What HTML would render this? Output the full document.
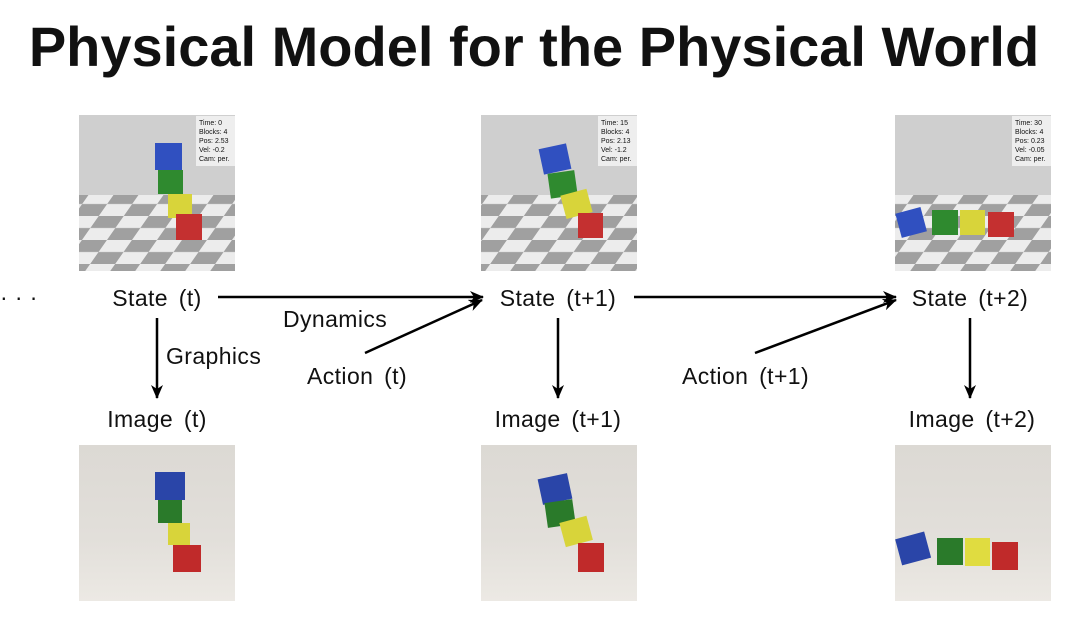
<!DOCTYPE html>
<html><head><meta charset="utf-8"><style>
html,body{margin:0;padding:0;background:#fff;}
svg{display:block;}
text{font-family:"Liberation Sans",sans-serif;fill:#111;}
</style></head><body>
<svg width="1080" height="627" viewBox="0 0 1080 627" xmlns="http://www.w3.org/2000/svg">
<defs>
<marker id="ah" markerWidth="14" markerHeight="12" refX="13" refY="6" orient="auto" markerUnits="userSpaceOnUse">
<path d="M0,0 L14,6 L0,12 L4,6 Z" fill="#000"/></marker>
<pattern id="chk" width="50" height="24" patternUnits="userSpaceOnUse" patternTransform="skewX(-35)">
<rect width="50" height="24" fill="#ececec"/><rect width="25" height="12" fill="#a0a0a0"/><rect x="25" y="12" width="25" height="12" fill="#a0a0a0"/></pattern>
<linearGradient id="cloth" x1="0" y1="0" x2="0" y2="1"><stop offset="0" stop-color="#dcd9d4"/><stop offset="0.6" stop-color="#e2dfda"/><stop offset="1" stop-color="#ece9e4"/></linearGradient>
</defs>

<text x="534" y="66" text-anchor="middle" font-size="56" font-weight="bold">Physical Model for the Physical World</text>

<!-- top images -->
<g>
<rect x="79" y="115" width="156" height="80" fill="#cfcfcf"/><rect x="79" y="195" width="156" height="76" fill="url(#chk)"/>
<rect x="196" y="116" width="39" height="50" fill="#eee"/>
<text font-size="7" x="199" y="125">Time: 0</text><text font-size="7" x="199" y="134">Blocks: 4</text><text font-size="7" x="199" y="143">Pos: 2.53</text><text font-size="7" x="199" y="152">Vel: -0.2</text><text font-size="7" x="199" y="161">Cam: per.</text>
<rect x="155" y="143" width="27" height="27" fill="#3050c0"/><rect x="158" y="170" width="25" height="24" fill="#2f8a2f"/><rect x="168" y="194" width="24" height="24" fill="#d8d43a"/><rect x="176" y="214" width="26" height="26" fill="#c43030"/>
</g>
<g>
<rect x="481" y="115" width="156" height="80" fill="#cfcfcf"/><rect x="481" y="195" width="156" height="76" fill="url(#chk)"/>
<rect x="598" y="116" width="39" height="50" fill="#eee"/>
<text font-size="7" x="601" y="125">Time: 15</text><text font-size="7" x="601" y="134">Blocks: 4</text><text font-size="7" x="601" y="143">Pos: 2.13</text><text font-size="7" x="601" y="152">Vel: -1.2</text><text font-size="7" x="601" y="161">Cam: per.</text>
<rect x="541" y="146" width="28" height="26" fill="#3050c0" transform="rotate(-12 555 159)"/><rect x="549" y="172" width="27" height="25" fill="#2f8a2f" transform="rotate(-8 562 184)"/><rect x="563" y="192" width="27" height="24" fill="#d8d43a" transform="rotate(-15 576 204)"/><rect x="578" y="213" width="25" height="25" fill="#c43030"/>
</g>
<g>
<rect x="895" y="115" width="156" height="80" fill="#cfcfcf"/><rect x="895" y="195" width="156" height="76" fill="url(#chk)"/>
<rect x="1012" y="116" width="39" height="50" fill="#eee"/>
<text font-size="7" x="1015" y="125">Time: 30</text><text font-size="7" x="1015" y="134">Blocks: 4</text><text font-size="7" x="1015" y="143">Pos: 0.23</text><text font-size="7" x="1015" y="152">Vel: -0.05</text><text font-size="7" x="1015" y="161">Cam: per.</text>
<rect x="898" y="210" width="26" height="25" fill="#3050c0" transform="rotate(-15 911 222)"/><rect x="932" y="210" width="26" height="25" fill="#2f8a2f"/><rect x="960" y="210" width="25" height="25" fill="#d8d43a"/><rect x="988" y="212" width="26" height="25" fill="#c43030"/>
</g>

<!-- bottom images -->
<g>
<rect x="79" y="445" width="156" height="156" fill="url(#cloth)"/>
<rect x="155" y="472" width="30" height="28" fill="#2a45a8"/><rect x="158" y="500" width="24" height="23" fill="#2a7a2a"/><rect x="168" y="523" width="22" height="22" fill="#d8d43a"/><rect x="173" y="545" width="28" height="27" fill="#c02a2a"/>
</g>
<g>
<rect x="481" y="445" width="156" height="156" fill="url(#cloth)"/>
<rect x="540" y="476" width="30" height="26" fill="#2a45a8" transform="rotate(-12 555 489)"/><rect x="546" y="501" width="28" height="25" fill="#2a7a2a" transform="rotate(-8 560 513)"/><rect x="562" y="519" width="28" height="25" fill="#d8d43a" transform="rotate(-15 576 531)"/><rect x="578" y="543" width="26" height="29" fill="#c02a2a"/>
</g>
<g>
<rect x="895" y="445" width="156" height="156" fill="url(#cloth)"/>
<rect x="898" y="535" width="30" height="27" fill="#2a45a8" transform="rotate(-15 913 548)"/><rect x="937" y="538" width="26" height="27" fill="#2a7a2a"/><rect x="965" y="538" width="25" height="28" fill="#e0dc40"/><rect x="992" y="542" width="26" height="28" fill="#c02a2a"/>
</g>

<!-- labels -->
<g font-size="23" letter-spacing="0.4">
<text x="0" y="305">· · ·</text>
<text x="157" y="306" text-anchor="middle" word-spacing="4">State (t)</text>
<text x="558" y="306" text-anchor="middle" word-spacing="4">State (t+1)</text>
<text x="970" y="306" text-anchor="middle" word-spacing="4">State (t+2)</text>
<text x="157" y="427" text-anchor="middle" word-spacing="4">Image (t)</text>
<text x="558" y="427" text-anchor="middle" word-spacing="4">Image (t+1)</text>
<text x="972" y="427" text-anchor="middle" word-spacing="4">Image (t+2)</text>
<text x="166" y="364">Graphics</text>
<text x="283" y="327">Dynamics</text>
<text x="307" y="384" word-spacing="4">Action (t)</text>
<text x="682" y="384" word-spacing="4">Action (t+1)</text>
</g>

<!-- arrows -->
<g stroke="#000" stroke-width="2.5" fill="none" marker-end="url(#ah)">
<line x1="218" y1="297" x2="483" y2="297"/>
<line x1="634" y1="297" x2="896" y2="297"/>
<line x1="365" y1="353" x2="482" y2="300"/>
<line x1="755" y1="353" x2="896" y2="300"/>
<line x1="157" y1="318" x2="157" y2="398"/>
<line x1="558" y1="318" x2="558" y2="398"/>
<line x1="970" y1="318" x2="970" y2="398"/>
</g>
</svg>
</body></html>
